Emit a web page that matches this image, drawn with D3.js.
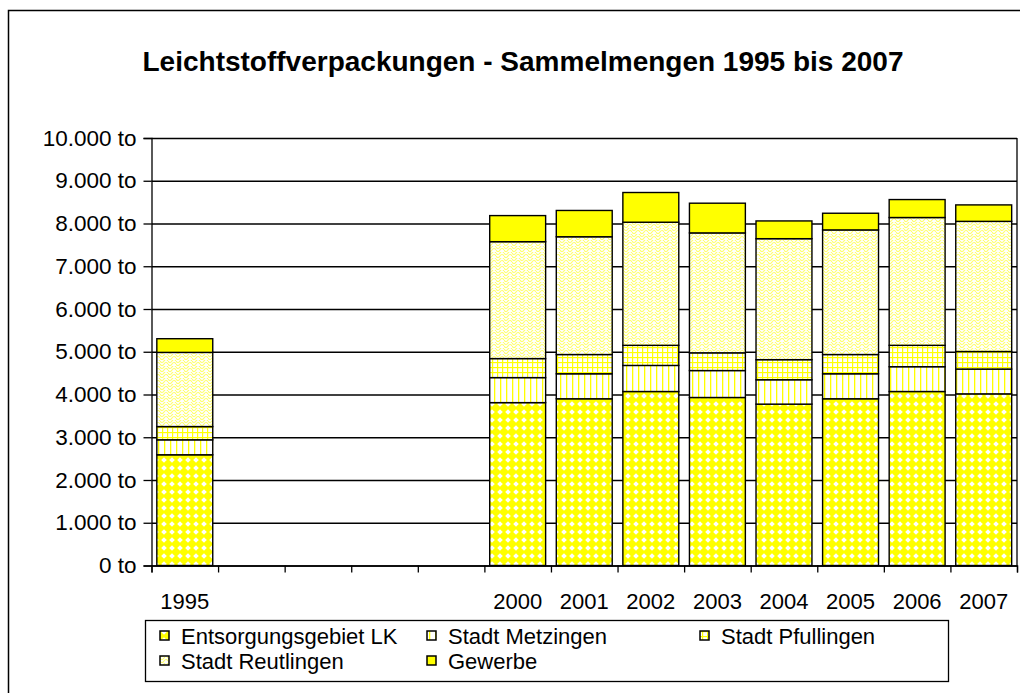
<!DOCTYPE html>
<html>
<head>
<meta charset="utf-8">
<script src="https://cdn.jsdelivr.net/npm/d3@7"></script>
<style>
  body { margin: 0; background: #fff; }
  svg { display: block; font-family: "Liberation Sans", Arial, sans-serif; }
</style>
</head>
<body>
<div id="chartDiv"></div>
<script>
// categories (1996-1999 are empty slots on the axis)
const years = ["1995","1996","1997","1998","1999","2000","2001","2002","2003","2004","2005","2006","2007"];
const yearLabels = ["1995","","","","","2000","2001","2002","2003","2004","2005","2006","2007"];

// series values in tonnes, bottom to top
const entsorgungsgebietLK = [2590, null, null, null, null, 3810, 3900, 4070, 3930, 3775, 3900, 4070, 4015];
const stadtMetzingen      = [ 350, null, null, null, null,  585,  585,  610,  630,  570,  585,  580,  580];
const stadtPfullingen     = [ 310, null, null, null, null,  445,  450,  470,  415,  470,  450,  500,  410];
const stadtReutlingen     = [1735, null, null, null, null, 2735, 2755, 2880, 2805, 2830, 2915, 2990, 3045];
const gewerbe             = [ 320, null, null, null, null,  610,  615,  695,  695,  415,  390,  420,  385];

const seriesNames = ["Entsorgungsgebiet LK", "Stadt Metzingen", "Stadt Pfullingen", "Stadt Reutlingen", "Gewerbe"];
const yTicks = [0, 1000, 2000, 3000, 4000, 5000, 6000, 7000, 8000, 9000, 10000];

const title = "Leichtstoffverpackungen - Sammelmengen 1995 bis 2007";

const W = 1020, H = 693;
const plot = { left: 151.5, right: 1017, top: 138, bottom: 565.5 };

const svg = d3.select("#chartDiv").append("svg")
	.attr("width", W)
	.attr("height", H);

// outer chart frame (runs off the right and bottom edge)
svg.append("rect")
	.attr("x", 8.5).attr("y", 10.5)
	.attr("width", W + 20).attr("height", H + 20)
	.attr("fill", "#fff")
	.attr("stroke", "#000")
	.attr("stroke-width", 1.5);

// ---- fill patterns
const defs = svg.append("defs");
const YEL = "#ffff00";

function addPattern(id, w, h, build){
	const p = defs.append("pattern")
		.attr("id", id)
		.attr("patternUnits", "userSpaceOnUse")
		.attr("width", w).attr("height", h);
	build(p);
}

addPattern("pLK", 8, 8, p => {
	p.append("rect").attr("width", 8).attr("height", 8).attr("fill", YEL);
	p.append("path").attr("d", "M4,1.2 L6.8,4 L4,6.8 L1.2,4 Z").attr("fill", "#fff");
});
addPattern("pMetz", 6, 6, p => {
	p.append("rect").attr("width", 6).attr("height", 6).attr("fill", "#fff");
	p.append("rect").attr("x", 2).attr("width", 1.3).attr("height", 6).attr("fill", YEL);
});
addPattern("pPfull", 5, 5, p => {
	p.append("rect").attr("width", 5).attr("height", 5).attr("fill", "#fff");
	p.append("rect").attr("x", 2).attr("width", 1.2).attr("height", 5).attr("fill", YEL);
	p.append("rect").attr("y", 2).attr("width", 5).attr("height", 1.2).attr("fill", YEL);
});
addPattern("pReut", 8, 6, p => {
	p.append("rect").attr("width", 8).attr("height", 6).attr("fill", "#fff");
	p.append("path")
		.attr("d", "M0,1 Q2,4 4,1 T8,1 M0,4 Q2,7 4,4 T8,4")
		.attr("fill", "none")
		.attr("stroke", "#ffff66")
		.attr("stroke-width", 1.1);
});

const fills = ["url(#pLK)", "url(#pMetz)", "url(#pPfull)", "url(#pReut)", YEL];

// ---- title
svg.append("text")
	.attr("x", 523).attr("y", 71)
	.attr("text-anchor", "middle")
	.attr("font-size", 28)
	.attr("font-weight", "bold")
	.text(title);

// ---- scales
const x = d3.scaleBand()
	.domain(years)
	.range([plot.left, plot.right])
	.paddingInner(0.16)
	.paddingOuter(0.08);

const slotScale = d3.scaleLinear()
	.domain([0, years.length])
	.range([plot.left, plot.right]);

const y = d3.scaleLinear()
	.domain([0, 10000])
	.range([plot.bottom, plot.top]);

const de = d3.formatLocale({ decimal: ",", thousands: ".", grouping: [3], currency: ["", " €"] });
const fmt = de.format(",.0f");

// gridlines
svg.append("g")
	.attr("class", "grid")
	.attr("transform", `translate(${plot.left},0)`)
	.call(d3.axisLeft(y).tickValues(yTicks).tickSize(-(plot.right - plot.left)).tickFormat(""))
	.call(g => g.select(".domain").remove())
	.call(g => g.selectAll("line").attr("stroke", "#000").attr("stroke-width", 1.3));

// right border of plot area
svg.append("line")
	.attr("x1", plot.right).attr("x2", plot.right)
	.attr("y1", plot.top).attr("y2", plot.bottom)
	.attr("stroke", "#000").attr("stroke-width", 1.3);

// ---- stacked bars
const rows = years.map((yr, i) => ({
	year: yr,
	"Entsorgungsgebiet LK": entsorgungsgebietLK[i],
	"Stadt Metzingen": stadtMetzingen[i],
	"Stadt Pfullingen": stadtPfullingen[i],
	"Stadt Reutlingen": stadtReutlingen[i],
	"Gewerbe": gewerbe[i]
})).filter(d => d["Entsorgungsgebiet LK"] != null);

const stacked = d3.stack().keys(seriesNames)(rows);

svg.append("g")
	.selectAll("g")
	.data(stacked)
	.join("g")
	.attr("fill", (d, i) => fills[i])
	.selectAll("rect")
	.data(d => d)
	.join("rect")
	.attr("x", d => x(d.data.year))
	.attr("width", x.bandwidth())
	.attr("y", d => y(d[1]))
	.attr("height", d => y(d[0]) - y(d[1]))
	.attr("stroke", "#000")
	.attr("stroke-width", 1.4);

// ---- axes
svg.append("g")
	.attr("transform", `translate(${plot.left},0)`)
	.call(d3.axisLeft(y).tickValues(yTicks).tickSize(8).tickPadding(7).tickFormat(d => fmt(d) + " to"))
	.call(g => g.selectAll("line, path").attr("stroke", "#000").attr("stroke-width", 1.3))
	.call(g => g.selectAll("text").attr("font-size", 22.5).attr("fill", "#000").attr("font-family", "Liberation Sans, Arial, sans-serif"));

svg.append("g")
	.attr("transform", `translate(0,${plot.bottom})`)
	.call(d3.axisBottom(slotScale).tickValues(d3.range(years.length + 1)).tickSize(7).tickFormat(""))
	.call(g => g.selectAll("line, path").attr("stroke", "#000").attr("stroke-width", 1.3));

svg.append("g")
	.selectAll("text")
	.data(years)
	.join("text")
	.attr("x", d => x(d) + x.bandwidth() / 2)
	.attr("y", 609)
	.attr("text-anchor", "middle")
	.attr("font-size", 22)
	.text((d, i) => yearLabels[i]);

// ---- legend
const legend = svg.append("g");
legend.append("rect")
	.attr("x", 145.5).attr("y", 620.5)
	.attr("width", 803).attr("height", 61)
	.attr("fill", "#fff")
	.attr("stroke", "#000")
	.attr("stroke-width", 1.3);

const legendPos = [[160, 644], [427, 644], [700, 644], [160, 669], [427, 669]];
const item = legend.selectAll("g.item")
	.data(seriesNames)
	.join("g")
	.attr("class", "item")
	.attr("transform", (d, i) => `translate(${legendPos[i][0]},${legendPos[i][1]})`);

item.append("rect")
	.attr("x", 0).attr("y", -13)
	.attr("width", 9).attr("height", 9)
	.attr("fill", (d, i) => fills[i])
	.attr("stroke", "#000")
	.attr("stroke-width", 1.5);

item.append("text")
	.attr("x", 21)
	.attr("y", 0)
	.attr("font-size", 22)
	.text(d => d);
</script>
</body>
</html>
